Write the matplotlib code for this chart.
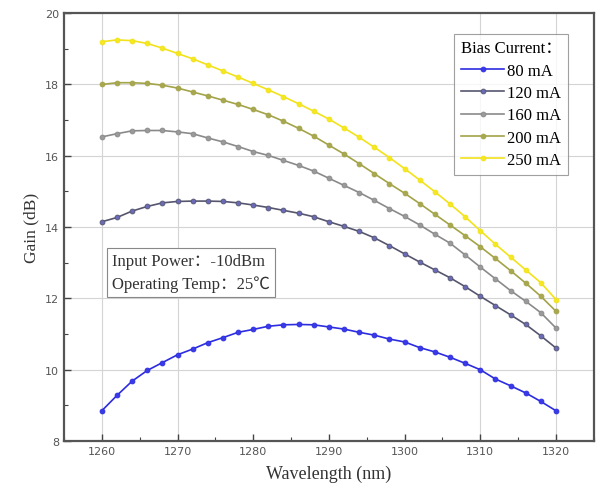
import matplotlib
matplotlib.use("Agg")
import matplotlib.pyplot as plt
from matplotlib.ticker import MultipleLocator

wavelength = list(range(1260, 1321, 2))

gain_80 = [8.85, 9.28, 9.68, 9.98, 10.20, 10.42, 10.58, 10.76, 10.90, 11.05, 11.13,
           11.22, 11.26, 11.27, 11.26, 11.20, 11.14, 11.05, 10.97, 10.86, 10.78,
           10.62, 10.50, 10.35, 10.18, 10.00, 9.74, 9.55, 9.35, 9.11, 8.85]
gain_120 = [14.15, 14.27, 14.45, 14.58, 14.68, 14.72, 14.73, 14.73, 14.72, 14.68, 14.62,
            14.55, 14.47, 14.39, 14.29, 14.15, 14.02, 13.88, 13.70, 13.48, 13.25,
            13.02, 12.80, 12.58, 12.33, 12.06, 11.80, 11.54, 11.27, 10.95, 10.61]
gain_160 = [16.53, 16.62, 16.70, 16.71, 16.71, 16.67, 16.62, 16.50, 16.39, 16.26, 16.12,
            16.01, 15.87, 15.73, 15.57, 15.37, 15.17, 14.97, 14.75, 14.52, 14.30,
            14.06, 13.80, 13.55, 13.22, 12.88, 12.55, 12.22, 11.92, 11.60, 11.17]
gain_200 = [18.00, 18.05, 18.05, 18.03, 17.98, 17.90, 17.79, 17.68, 17.56, 17.44, 17.30,
            17.15, 16.97, 16.77, 16.55, 16.30, 16.05, 15.78, 15.50, 15.22, 14.95,
            14.66, 14.36, 14.06, 13.76, 13.45, 13.12, 12.78, 12.43, 12.06, 11.64]
gain_250 = [19.20, 19.25, 19.23, 19.15, 19.02, 18.87, 18.72, 18.55, 18.38, 18.21, 18.03,
            17.85, 17.66, 17.46, 17.25, 17.03, 16.78, 16.52, 16.24, 15.95, 15.64,
            15.32, 14.99, 14.65, 14.29, 13.90, 13.52, 13.16, 12.80, 12.44, 11.97]

series = [gain_80, gain_120, gain_160, gain_200, gain_250]
labels = ["80 mA", "120 mA", "160 mA", "200 mA", "250 mA"]
line_colors = ["#2c2ce0", "#55566e", "#8a8a8a", "#a3a348", "#f2e21a"]
marker_colors = ["#3a3ae8", "#6a6ab8", "#9a9a9a", "#a8a850", "#f5e820"]

grid_x = [1260, 1270, 1310, 1320]
grid_y = [10, 12, 14, 16, 18]

serif = ["Liberation Serif", "Noto Sans CJK SC", "DejaVu Serif"]

fig = plt.figure(figsize=(5.98, 4.89), dpi=100)
ax = fig.add_axes([0.107, 0.096, 0.886, 0.875])

for gx in grid_x:
    ax.axvline(gx, color="#d4d4d4", lw=0.8, zorder=0)
for gy in grid_y:
    ax.axhline(gy, color="#d4d4d4", lw=0.8, zorder=0)

for vals, lab, lc, mc in zip(series, labels, line_colors, marker_colors):
    ax.plot(wavelength, vals, color=lc, lw=1.2, marker="o", markersize=3.5,
            markerfacecolor=mc, markeredgecolor=lc, markeredgewidth=0.6, label=lab)

ax.set_xlim(1255, 1325)
ax.set_ylim(8, 20)
ax.xaxis.set_major_locator(MultipleLocator(10))
ax.xaxis.set_minor_locator(MultipleLocator(5))
ax.yaxis.set_major_locator(MultipleLocator(2))
ax.yaxis.set_minor_locator(MultipleLocator(1))
ax.tick_params(which="both", direction="in", colors="#444444", labelsize=8,
               top=False, right=False)
ax.tick_params(which="major", length=5, width=1.0)
ax.tick_params(which="minor", length=3, width=0.8)
for lbl in ax.get_xticklabels() + ax.get_yticklabels():
    lbl.set_color("#555555")
for sp in ax.spines.values():
    sp.set_color("#555555")
    sp.set_linewidth(1.6)

ax.set_xlabel("Wavelength (nm)", family=serif, fontsize=13, color="#333333", labelpad=6)
ax.set_ylabel("Gain (dB)", family=serif, fontsize=12.5, color="#333333", labelpad=4)

leg = ax.legend(loc="upper right", bbox_to_anchor=(0.952, 0.952), title="Bias Current：",
                prop={"family": serif, "size": 12}, title_fontproperties={"family": serif, "size": 12},
                frameon=True, fancybox=False, edgecolor="#888888", handlelength=2.6,
                handletextpad=0.15, labelspacing=0.38, borderpad=0.4, borderaxespad=0)
leg._legend_box.align = "left"
leg.get_frame().set_linewidth(0.8)

ax.text(0.09, 0.44, "Input Power：-10dBm\nOperating Temp：25℃", transform=ax.transAxes,
        family=serif, fontsize=12, color="#333333", va="top", ha="left", linespacing=1.5,
        bbox=dict(boxstyle="square,pad=0.3", facecolor="white", edgecolor="#888888", linewidth=0.8))

fig.savefig("out.png", dpi=100, facecolor="white")
